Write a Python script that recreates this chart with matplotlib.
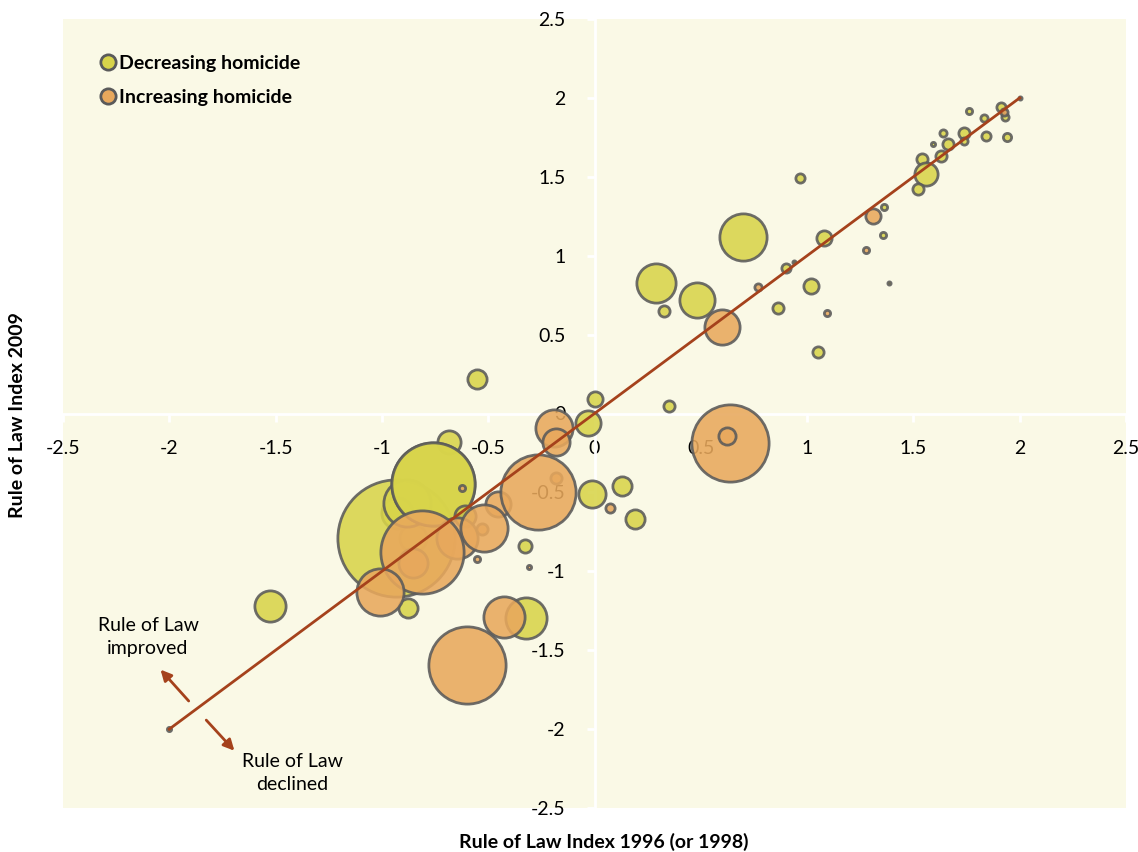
import numpy as np
import matplotlib.pyplot as plt
from matplotlib.lines import Line2D

plt.rcParams['font.family'] = ['Lato', 'DejaVu Sans']

# Rule of Law index, 1996 (or 1998) vs 2009, bubble = relative size
# decreasing homicide
dec_x = [2.00, 1.91, 1.93, 1.76, 1.83, 1.74, 1.74, 1.64, 1.59, 1.665,
         1.84, 1.94, 1.63, 1.54, 1.56, 1.52, 1.36, 1.355, 1.385, 0.965,
         0.70, 1.08, 0.90, 0.94, 1.017, 0.865, 1.05, 0.287, 0.48, 0.325,
         0.004, -0.03, 0.35, -0.555, -0.01, 0.13, 0.19, -0.325, -0.685,
         -0.927, -0.852, -0.935, -0.88, -0.76, -0.76, -0.607, -0.875, -0.32,
         -1.525, -2.00]
dec_y = [2.00, 1.94, 1.88, 1.92, 1.87, 1.78, 1.73, 1.78, 1.71, 1.71,
         1.76, 1.75, 1.63, 1.61, 1.52, 1.42, 1.31, 1.13, 0.83, 1.49,
         1.12, 1.11, 0.925, 0.96, 0.81, 0.67, 0.39, 0.83, 0.72, 0.65,
         0.095, -0.06, 0.045, 0.22, -0.51, -0.46, -0.67, -0.84, -0.18,
         -0.63, -0.79, -0.79, -0.565, -0.445, -0.445, -0.648, -1.23, -1.295,
         -1.22, -2.00]
dec_size = [3, 6, 5, 4.5, 5, 7, 5, 5, 3.5, 7,
            6, 5.5, 7, 7, 13, 7, 4.5, 4.5, 3, 6,
            25, 9, 6, 3, 9, 7, 7, 21, 19, 7,
            9, 14, 7, 11, 15, 11, 11, 8, 13,
            17, 15, 60, 25, 43, 43, 12, 11, 22,
            17, 3.5]

# increasing homicide
inc_x = [1.925, 1.31, 1.275, 0.77, 1.095, 0.60, 0.635, 0.625, -0.19, -0.18,
         -0.18, -0.452, -0.265, 0.075, -0.625, -0.856, -0.645, -0.527, -0.81,
         -1.007, -0.52, -0.425, -0.60, -0.555, -0.31]
inc_y = [1.91, 1.25, 1.035, 0.80, 0.635, 0.55, -0.19, -0.14, -0.095, -0.18,
         -0.41, -0.571, -0.495, -0.60, -0.47, -0.946, -0.787, -0.73, -0.875,
         -1.13, -0.725, -1.29, -1.595, -0.925, -0.97]
inc_size = [5, 9, 4.5, 5, 4.5, 19, 40, 10, 20, 15,
            7, 14, 39, 6, 4.5, 16, 22, 7, 43,
            25, 25, 22, 40, 4.5, 3.5]

diag = [-2, 2]
ticks = [-2.5, -2, -1.5, -1, -0.5, 0, 0.5, 1, 1.5, 2, 2.5]

YELLOW = '#D8D44A'
ORANGE = '#E8A85C'
EDGE = '#5A5A5A'
LINE = '#A5421C'
LW = 2.0
FS = 14


def bubble_s(r):
    # r: outer radius in pixels (dpi 100) -> scatter area in pt^2
    d = np.maximum(2 * (0.72 * np.asarray(r, float) - LW / 2), 1.5)
    return d ** 2


fig = plt.figure(figsize=(11.38, 8.52), dpi=100)
ax = fig.add_axes([63 / 1138, 44 / 852, 1063 / 1138, 789 / 852])
ax.set_facecolor('#FAF9E6')

for x, y, r in zip(dec_x, dec_y, dec_size):
    ax.scatter(x, y, s=bubble_s(r), color=YELLOW, edgecolors=EDGE,
               linewidths=LW, alpha=0.88, zorder=3)
for x, y, r in zip(inc_x, inc_y, inc_size):
    ax.scatter(x, y, s=bubble_s(r), color=ORANGE, edgecolors=EDGE,
               linewidths=LW, alpha=0.88, zorder=4)

ax.plot(diag, diag, color=LINE, lw=2, zorder=5)

ax.set_xlim(-2.5, 2.5)
ax.set_ylim(-2.5, 2.5)
ax.set_xticks(ticks)
ax.set_yticks(ticks)
ax.set_xticklabels(['%g' % t for t in ticks])
ax.set_yticklabels(['%g' % t for t in ticks])
ax.spines['left'].set_position(('data', 0))
ax.spines['bottom'].set_position(('data', 0))
for side in ['left', 'bottom']:
    ax.spines[side].set_color('white')
    ax.spines[side].set_linewidth(2)
    ax.spines[side].set_zorder(2)
for side in ['top', 'right']:
    ax.spines[side].set_visible(False)
ax.tick_params(direction='out', length=6, width=2, color='white',
               labelsize=FS, labelcolor='black')
ax.tick_params(axis='x', pad=13)
ax.tick_params(axis='y', pad=15)
for lab in ax.get_xticklabels() + ax.get_yticklabels():
    lab.set_clip_on(False)

# arrows and notes
arrow = dict(arrowstyle='-|>', color=LINE, lw=2, mutation_scale=16)
ax.annotate('', xy=(-2.05, -1.61), xytext=(-1.90, -1.835), arrowprops=arrow)
ax.annotate('', xy=(-1.685, -2.15), xytext=(-1.835, -1.93), arrowprops=arrow)
ax.text(-2.10, -1.415, 'Rule of Law\nimproved', ha='center', va='center',
        fontsize=FS, linespacing=1.45)
ax.text(-1.42, -2.28, 'Rule of Law\ndeclined', ha='center', va='center',
        fontsize=FS, linespacing=1.45)

handles = [
    Line2D([], [], marker='o', ls='none', markersize=11, markerfacecolor=YELLOW,
           markeredgecolor=EDGE, markeredgewidth=2),
    Line2D([], [], marker='o', ls='none', markersize=11, markerfacecolor=ORANGE,
           markeredgecolor=EDGE, markeredgewidth=2),
]
leg = ax.legend(handles, ['Decreasing homicide', 'Increasing homicide'],
                loc='upper left', bbox_to_anchor=(0.019, 0.977), frameon=False,
                handlelength=0.7, handletextpad=0.25, labelspacing=0.9,
                prop={'weight': 'bold', 'size': FS})

fig.text(604 / 1138, 1 - 842 / 852, 'Rule of Law Index 1996 (or 1998)',
         ha='center', va='center', fontsize=FS, fontweight='bold')
fig.text(18 / 1138, 1 - 415 / 852, 'Rule of Law Index 2009', rotation=90,
         ha='center', va='center', fontsize=FS, fontweight='bold')

fig.savefig('out.png', dpi=100)
